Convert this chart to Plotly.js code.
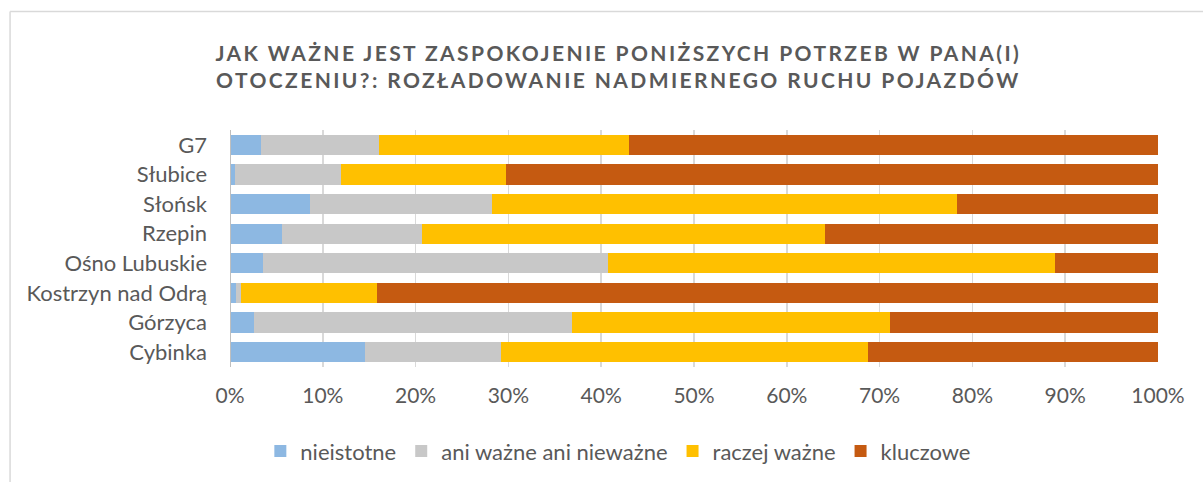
<!DOCTYPE html>
<html>
<head>
<meta charset="utf-8">
<script src="https://cdn.plot.ly/plotly-3.0.1.min.js"></script>
<style>html,body{margin:0;padding:0;background:#fff;}#chart{width:1203px;height:482px;}
.gtitle{letter-spacing:2.4px;}</style>
</head>
<body>
<div id="chart"></div>
<script>
const categories = ["G7", "Słubice", "Słońsk", "Rzepin", "Ośno Lubuskie", "Kostrzyn nad Odrą", "Górzyca", "Cybinka"];
const seriesNames = ["nieistotne", "ani ważne ani nieważne", "raczej ważne", "kluczowe"];
const nieistotne = [3.3, 0.5, 8.6, 5.6, 3.6, 0.6, 2.6, 14.5];
const aniWazne = [12.8, 11.5, 19.6, 15.1, 37.1, 0.6, 34.2, 14.7];
const raczejWazne = [26.9, 17.7, 50.1, 43.4, 48.2, 14.6, 34.3, 39.6];
const kluczowe = [57.0, 70.3, 21.7, 35.9, 11.1, 84.2, 28.9, 31.2];
const colors = ["#8db8e2", "#c8c8c8", "#ffc000", "#c55a11"];
const tickVals = [0, 10, 20, 30, 40, 50, 60, 70, 80, 90, 100];
const tickText = ["0%", "10%", "20%", "30%", "40%", "50%", "60%", "70%", "80%", "90%", "100%"];

const seriesData = [nieistotne, aniWazne, raczejWazne, kluczowe];
const traces = seriesData.map((vals, i) => ({
  type: "bar",
  orientation: "h",
  name: seriesNames[i],
  y: categories,
  x: vals,
  marker: {color: colors[i], line: {width: 0}},
  hoverinfo: "x+y+name"
}));

const font = "Lato, 'Open Sans', sans-serif";
const layout = {
  width: 1203,
  height: 482,
  barmode: "stack",
  bargap: 0.32,
  paper_bgcolor: "#ffffff",
  plot_bgcolor: "#ffffff",
  margin: {l: 230, r: 45, t: 130, b: 115},
  font: {family: font, color: "#595959", size: 21},
  title: {
    text: "JAK WAŻNE JEST ZASPOKOJENIE PONIŻSZYCH POTRZEB W PANA(I)<br>OTOCZENIU?: ROZŁADOWANIE NADMIERNEGO RUCHU POJAZDÓW",
    font: {family: font, size: 21, color: "#595959", weight: "bold"},
    x: 0.514, xanchor: "center", xref: "container",
    y: 0.874, yanchor: "middle", yref: "container"
  },
  xaxis: {
    range: [0, 100],
    tickvals: tickVals,
    ticktext: tickText,
    showgrid: true,
    gridcolor: "#d9d9d9",
    gridwidth: 1.5,
    zeroline: false,
    showline: false,
    ticks: "",
    ticklabelstandoff: 14,
    tickfont: {size: 21, color: "#595959"},
    fixedrange: true
  },
  yaxis: {
    categoryorder: "array",
    categoryarray: categories,
    autorange: "reversed",
    showgrid: false,
    zeroline: false,
    showline: false,
    ticks: "",
    ticklabelstandoff: 22,
    tickfont: {size: 22, color: "#595959"},
    fixedrange: true
  },
  legend: {
    orientation: "h",
    x: 0.514, xanchor: "center", xref: "container",
    y: 0.064, yanchor: "middle", yref: "container",
    font: {size: 22, color: "#595959"},
    traceorder: "normal",
    itemwidth: 30
  },
  shapes: [
    {type: "line", xref: "x", yref: "paper", x0: 0, x1: 0, y0: 0, y1: 1, line: {color: "#bfbfbf", width: 2}, layer: "above"},
    {type: "line", xref: "paper", yref: "paper", x0: -0.237, x1: 1.15, y0: 1.5, y1: 1.5, line: {color: "#d9d9d9", width: 1.5}},
    {type: "line", xref: "paper", yref: "paper", x0: -0.237, x1: -0.237, y0: 1.5, y1: -0.6, line: {color: "#d9d9d9", width: 1.5}}
  ],
  showlegend: true
};

Plotly.newPlot("chart", traces, layout, {displayModeBar: false, staticPlot: true});
</script>
</body>
</html>
